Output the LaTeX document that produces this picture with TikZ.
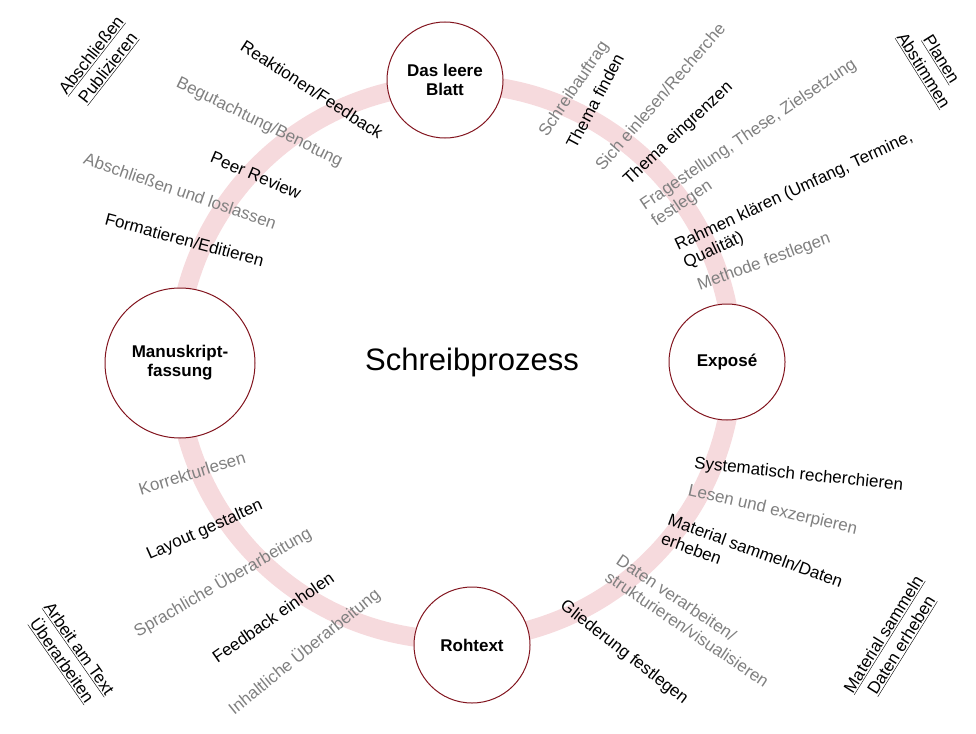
\documentclass[tikz,border=0pt]{standalone}
\usepackage{fontspec}
\setmainfont{Liberation Sans}
\definecolor{ringred}{RGB}{246,218,221}
\definecolor{rimred}{RGB}{130,20,30}
\definecolor{txtgray}{RGB}{128,128,128}
\tikzset{
  stage/.style={circle, draw=rimred, line width=1pt, fill=white, minimum size=116pt, align=center, font=\fontsize{17}{19}\selectfont\bfseries},
  lbl/.style={inner sep=0pt, align=left, font=\fontsize{17}{20}\selectfont},
  grylbl/.style={lbl, text=txtgray},
  phase/.style={inner sep=0pt, align=center, font=\fontsize{17}{21}\selectfont}
}
\begin{document}
\begin{tikzpicture}[x=1pt,y=-1pt]
    \useasboundingbox (0,0) rectangle (976,733);

    % ring
    \draw[ringred, line width=19pt] (455,362) circle (278);

    % stages
    \node[stage] (blatt) at (445,80) {Das leere\\Blatt};
    \node[stage] (expose) at (727,362) {Exposé};
    \node[stage] (rohtext) at (472,645) {Rohtext};
    \node[stage, minimum size=150pt] (manu) at (180,363) {Manuskript-\\fassung};

    \node[font=\fontsize{31}{33}\selectfont] (titel) at (472,362) {Schreibprozess};

    % top right
    \node[grylbl, anchor=south west, rotate=56] (s1) at (550,140) {Schreibauftrag};
    \node[lbl, anchor=south west, rotate=62] (s2) at (576,150) {Thema finden};
    \node[grylbl, anchor=south west, rotate=49] (s3) at (603,172) {Sich einlesen/Recherche};
    \node[lbl, anchor=south west, rotate=43] (s4) at (632,188) {Thema eingrenzen};
    \node[grylbl, anchor=south west, rotate=34] (s5) at (658,230) {Fragestellung, These, Zielsetzung\\festlegen};
    \node[lbl, anchor=south west, rotate=25] (s6) at (688,272) {Rahmen klären (Umfang, Termine,\\Qualität)};
    \node[grylbl, anchor=south west, rotate=20] (s7) at (701,294) {Methode festlegen};

    % bottom right
    \node[lbl, anchor=north west, rotate=-6] (r1) at (695,456) {Systematisch recherchieren};
    \node[grylbl, anchor=north west, rotate=-13] (r2) at (690,483) {Lesen und exzerpieren};
    \node[lbl, anchor=north west, rotate=-20] (r3) at (671,513) {Material sammeln/Daten\\erheben};
    \node[grylbl, anchor=north west, rotate=-34] (r4) at (622,553) {Daten verarbeiten/\\strukturieren/visualisieren};
    \node[lbl, anchor=north west, rotate=-38] (r5) at (567,598) {Gliederung festlegen};

    % bottom left
    \node[grylbl, anchor=east, rotate=17] (b1) at (245,457) {Korrekturlesen};
    \node[lbl, anchor=east, rotate=24] (b2) at (262,505) {Layout gestalten};
    \node[grylbl, anchor=east, rotate=30] (b3) at (310,532) {Sprachliche Überarbeitung};
    \node[lbl, anchor=east, rotate=35] (b4) at (332,576) {Feedback einholen};
    \node[grylbl, anchor=east, rotate=39] (b5) at (378,592) {Inhaltliche Überarbeitung};

    % top left
    \node[lbl, anchor=south east, rotate=-33] (l1) at (378,140) {Reaktionen/Feedback};
    \node[grylbl, anchor=south east, rotate=-26] (l2) at (338,170) {Begutachtung/Benotung};
    \node[lbl, anchor=south east, rotate=-23] (l3) at (298,200) {Peer Review};
    \node[grylbl, anchor=south east, rotate=-19] (l4) at (274,230) {Abschließen und loslassen};
    \node[lbl, anchor=south east, rotate=-15] (l5) at (262,267) {Formatieren/Editieren};

    % phases
    \node[phase, rotate=52] (p1) at (100,62) {\underline{Abschließen}\\\underline{Publizieren}};
    \node[phase, rotate=-58] (p2) at (932,65) {\underline{Planen}\\\underline{Abstimmen}};
    \node[phase, rotate=58] (p3) at (893,640) {\underline{Material sammeln}\\\underline{Daten erheben}};
    \node[phase, rotate=-55] (p4) at (70,655) {\underline{Arbeit am Text}\\\underline{Überarbeiten}};
\end{tikzpicture}
\end{document}
